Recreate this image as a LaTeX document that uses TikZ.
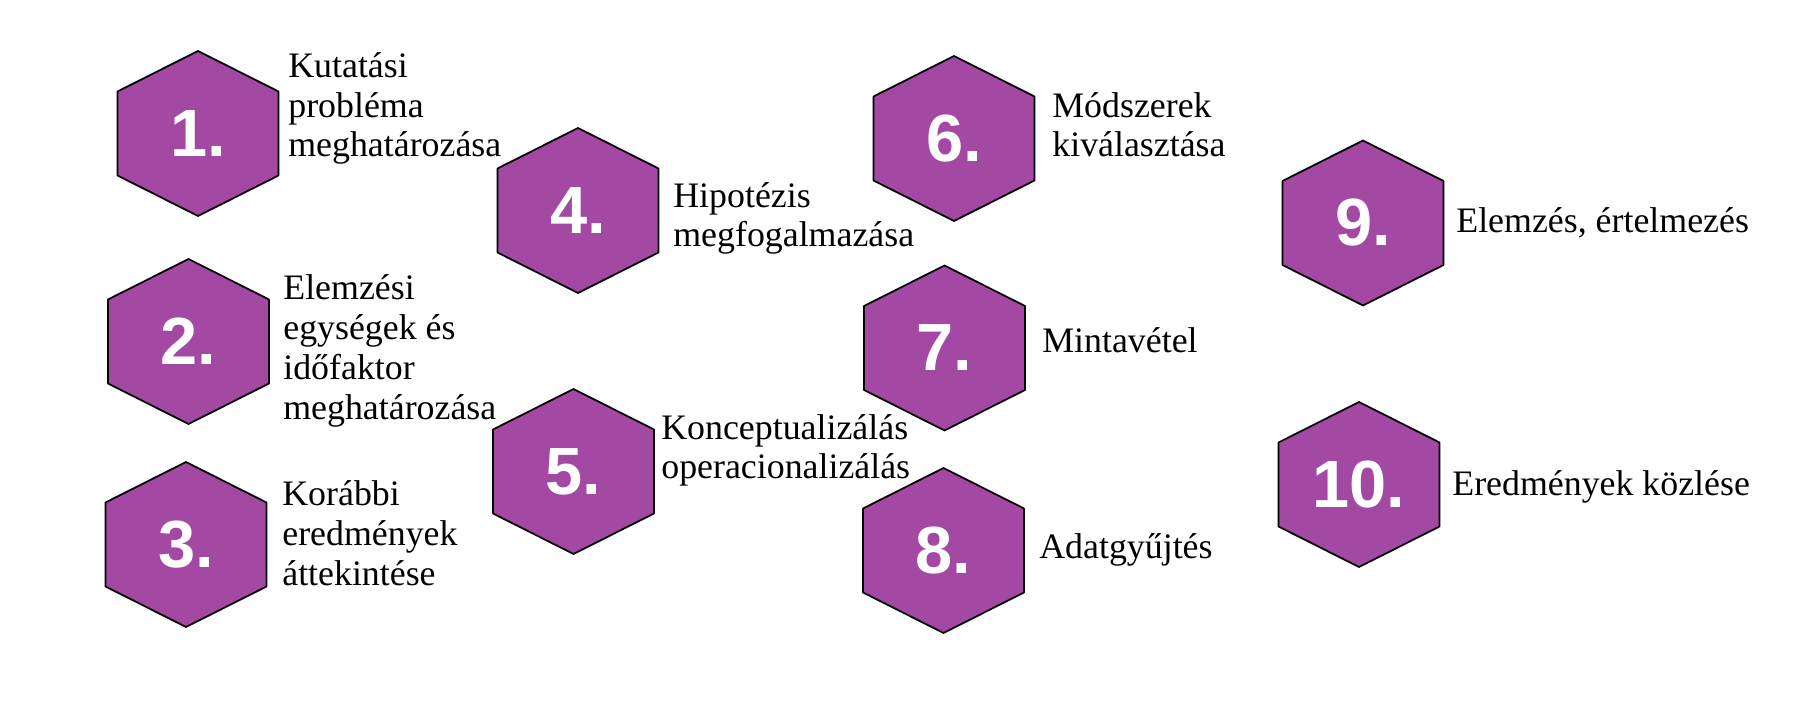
\documentclass[tikz,border=0pt]{standalone}
\usepackage{fontspec}
\setmainfont{Liberation Serif}
\newfontfamily\numfont{Liberation Sans}
\definecolor{hexpurple}{HTML}{A349A4}

\begin{document}
\begin{tikzpicture}[x=0.02cm, y=-0.02cm, line join=round,
    hexa/.style={draw=black, line width=1pt, fill=hexpurple},
    stepnum/.style={text=white, inner sep=0pt, font=\numfont\bfseries\fontsize{38}{38}\selectfont},
    steptext/.style={anchor=base west, align=left, inner sep=0pt, font=\fontsize{20.4}{22.7}\selectfont}]

    % Canvas
    \useasboundingbox (0,0) rectangle (1804,712);

    % Hexagons with step numbers
    \foreach \n/\cx/\cy in {1/198/133.5, 2/188.5/341.5, 3/186/544.5, 4/578/210.5, 5/573.5/471.5,
                            6/954/138.5, 7/944.5/348, 8/943.5/550.5, 9/1363/223, 10/1359/484.5}{
        \draw[hexa] (\cx,\cy) ++(0,-82.5) -- ++(80.5,40.5) -- ++(0,84) -- ++(-80.5,40.5)
            -- ++(-80.5,-40.5) -- ++(0,-84) -- cycle;
        \node[stepnum] (num\n) at (\cx,\cy) {\n.};
    }

    % Step labels (placed at the baseline of the last line)
    \node[steptext] (lbl1) at (288,157) {Kutatási\\probléma\\meghatározása};
    \node[steptext] (lbl2) at (283,419) {Elemzési\\egységek és\\időfaktor\\meghatározása};
    \node[steptext] (lbl3) at (282,585) {Korábbi\\eredmények\\áttekintése};
    \node[steptext] (lbl4) at (673,247) {Hipotézis\\megfogalmazása};
    \node[steptext] (lbl5) at (661,479) {Konceptualizálás\\operacionalizálás};
    \node[steptext] (lbl6) at (1052,157) {Módszerek\\kiválasztása};
    \node[steptext] (lbl7) at (1042,353) {Mintavétel};
    \node[steptext] (lbl8) at (1039,558) {Adatgyűjtés};
    \node[steptext] (lbl9) at (1456,233) {Elemzés, értelmezés};
    \node[steptext] (lbl10) at (1452,495) {Eredmények közlése};
\end{tikzpicture}
\end{document}
